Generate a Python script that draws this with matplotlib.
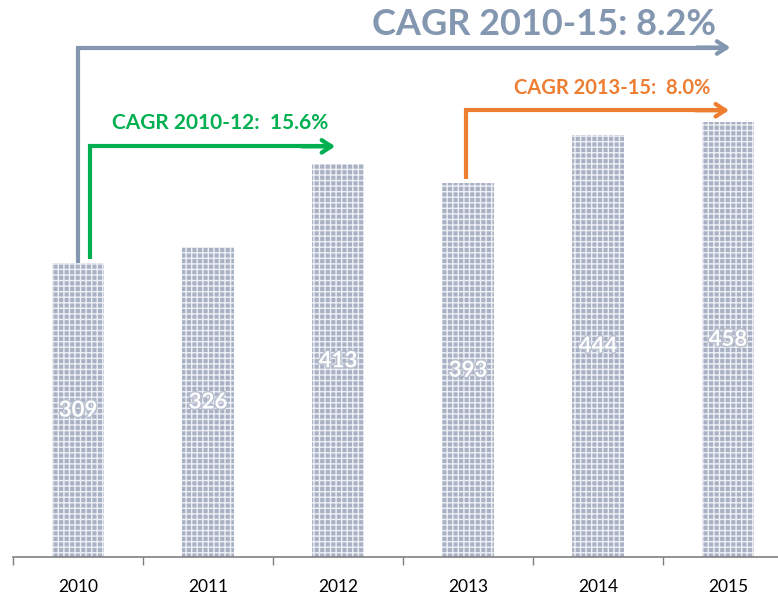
import matplotlib.pyplot as plt
import matplotlib.patheffects as pe

# --- Datos ---
years = ['2010', '2011', '2012', '2013', '2014', '2015']
values = [309, 326, 413, 393, 444, 458]

cagr_labels = ['CAGR 2010-15: 8.2%', 'CAGR 2010-12:  15.6%', 'CAGR 2013-15:  8.0%']

plt.rcParams['font.family'] = ['Lato', 'DejaVu Sans']
plt.rcParams['hatch.linewidth'] = 1.0

W, H = 778, 597
fig = plt.figure(figsize=(W / 100, H / 100), dpi=100)
# eje: x desde 13 px hasta 793 px (cortado a la derecha), base en y=557 px
ax = fig.add_axes([13 / W, (H - 557) / H, 780 / W, 557 / H])

x = list(range(len(years)))
ax.bar(x, values, width=0.4, color='#a9b2c5', edgecolor='#eef0f5',
       linewidth=0, hatch='+++')

for xi, v in zip(x, values):
    ax.text(xi, v / 2, str(v), ha='center', va='center', color='white',
            fontsize=16, fontweight='bold',
            path_effects=[pe.withStroke(linewidth=2, foreground='#b9c0cf')])

ax.set_xlim(-0.5, 5.5)
ax.set_ylim(0, 586)
ax.set_xticks([i - 0.5 for i in x])
ax.set_xticklabels([])
ax.set_xticks(x, minor=True)
ax.set_xticklabels(years, minor=True, fontsize=12.5)
ax.tick_params(axis='x', which='major', length=6, width=1, color='#808080', direction='out')
ax.tick_params(axis='x', which='minor', length=0, pad=16)
ax.set_yticks([])
for s in ['top', 'right', 'left']:
    ax.spines[s].set_visible(False)
ax.spines['bottom'].set_color('#808080')
ax.spines['bottom'].set_linewidth(1.2)


def cagr_arrow(x0, y0, yh, x1, color, lw):
    ax.plot([x0, x0, x1 - 0.05], [y0, yh, yh], color=color, lw=lw,
            solid_capstyle='butt', solid_joinstyle='miter', clip_on=False)
    ax.annotate('', xy=(x1, yh), xytext=(x1 - 0.3, yh),
                arrowprops=dict(arrowstyle='->,head_length=0.7,head_width=0.45',
                                color=color, lw=lw), annotation_clip=False)


gray, green, orange = '#8497b0', '#00b050', '#ed7d31'
cagr_arrow(0, values[0], 536, 5.04, gray, 3)
cagr_arrow(0.092, values[0] + 5, 432, 2.0, green, 3)
cagr_arrow(2.985, values[3] + 5, 470, 5.03, orange, 3)

ax.text(4.91, 560, cagr_labels[0], ha='right', va='center', color=gray,
        fontsize=26, fontweight='bold', clip_on=False)
ax.text(1.09, 457, cagr_labels[1], ha='center', va='center', color=green,
        fontsize=15, fontweight='bold')
ax.text(4.11, 493, cagr_labels[2], ha='center', va='center', color=orange,
        fontsize=14.5, fontweight='bold')

plt.savefig('out.png', dpi=100)
